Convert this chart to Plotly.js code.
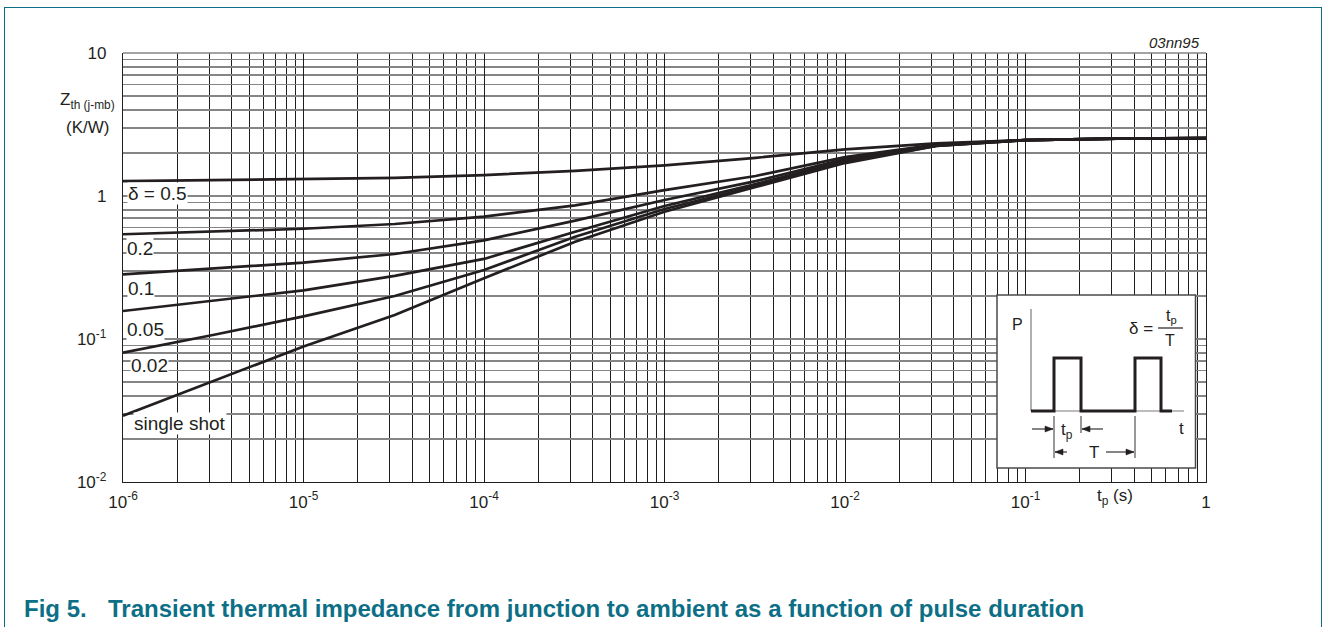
<!DOCTYPE html>
<html>
<head>
<meta charset="utf-8">
<script src="https://cdn.plot.ly/plotly-3.0.1.min.js"></script>
<style>
  html, body { margin: 0; padding: 0; background: #ffffff; }
  #wrap { position: relative; width: 1326px; height: 627px; overflow: hidden; }
  #chart { position: absolute; left: 0; top: 0; width: 1326px; height: 627px; }
  #frame { position: absolute; left: 4px; top: 7px; width: 1316px; height: 700px;
           border: 1.5px solid #0d6f86; border-bottom: none; pointer-events: none; }
</style>
</head>
<body>
<div id="wrap">
  <div id="chart"></div>
  <div id="frame"></div>
</div>
<script>
// Pulse duration t_p (s)
const tp = [1e-6, 3.2e-6, 1e-5, 3.2e-5, 1e-4, 3.2e-4, 1e-3, 3.2e-3, 1e-2, 3.2e-2, 0.1, 0.32, 1];

// Zth(j-mb) in K/W for each duty cycle
const zthD05 = [1.27, 1.29, 1.31, 1.34, 1.40, 1.50, 1.64, 1.85, 2.12, 2.33, 2.46, 2.52, 2.54];
const zthD02 = [0.54, 0.565, 0.59, 0.637, 0.717, 0.861, 1.10, 1.38, 1.87, 2.29, 2.46, 2.52, 2.54];
const zthD01 = [0.283, 0.311, 0.342, 0.393, 0.490, 0.672, 0.938, 1.27, 1.81, 2.27, 2.46, 2.52, 2.54];
const zthD005 = [0.157, 0.185, 0.219, 0.276, 0.363, 0.563, 0.851, 1.21, 1.76, 2.25, 2.46, 2.52, 2.54];
const zthD002 = [0.0802, 0.107, 0.144, 0.200, 0.304, 0.519, 0.811, 1.175, 1.73, 2.24, 2.46, 2.52, 2.54];
const zthSingle = [0.0291, 0.0509, 0.0887, 0.147, 0.266, 0.479, 0.777, 1.156, 1.70, 2.24, 2.46, 2.52, 2.54];

const seriesNames = ['δ = 0.5', '0.2', '0.1', '0.05', '0.02', 'single shot'];
const seriesValues = [zthD05, zthD02, zthD01, zthD005, zthD002, zthSingle];

// Tick labels at each decade
const xDecades = [1e-6, 1e-5, 1e-4, 1e-3, 1e-2, 1e-1, 1];
const xDecadeLabels = ['10<sup>-6</sup>', '10<sup>-5</sup>', '10<sup>-4</sup>', '10<sup>-3</sup>', '10<sup>-2</sup>', '10<sup>-1</sup>', '1'];
const yDecades = [1e-2, 1e-1, 1, 10];
const yDecadeLabels = ['10<sup>-2</sup>', '10<sup>-1</sup>', '1', '10'];

// Minor grid at 2..9 x 10^k inside each decade
function minorGrid(decades) {
  const vals = [];
  for (let i = 0; i < decades.length - 1; i++) {
    for (let m = 2; m <= 9; m++) vals.push(decades[i] * m);
  }
  return vals;
}

// Plot area in page pixels
const L = 123, R = 1206, T = 53, B = 482;
const W = 1326, H = 627;
const px = p => (p - L) / (R - L);
const py = p => (B - p) / (B - T);

const ink = '#231f20';
const teal = '#0d6f86';
const font = 'Liberation Sans, Arial, Helvetica, sans-serif';
const vGrid = '#1e1e1e';
const hGrid = '#858585';

const traces = seriesValues.map((vals, i) => ({
  x: tp, y: vals, type: 'scatter', mode: 'lines', name: seriesNames[i],
  line: { color: ink, width: 2.7 }, hoverinfo: 'skip'
}));

const shapes = [];
const annotations = [];

function line(x0, y0, x1, y1, color, width) {
  shapes.push({ type: 'line', xref: 'paper', yref: 'paper', layer: 'above',
    x0: px(x0), y0: py(y0), x1: px(x1), y1: py(y1), line: { color, width } });
}
function path(points, close, color, width, fill) {
  const d = points.map((p, i) => (i ? 'L' : 'M') + px(p[0]) + ',' + py(p[1])).join(' ') + (close ? ' Z' : '');
  const s = { type: 'path', xref: 'paper', yref: 'paper', layer: 'above', path: d,
    line: { color, width } };
  if (fill) s.fillcolor = fill;
  shapes.push(s);
}
function label(text, x, y, opts) {
  annotations.push(Object.assign({ text, xref: 'paper', yref: 'paper', x: px(x), y: py(y),
    showarrow: false, xanchor: 'center', yanchor: 'middle',
    font: { family: font, size: 17, color: ink } }, opts || {}));
}
// horizontal dimension arrow: shaft from x0 to head at xh
function arrow(x0, xh, y) {
  line(x0, y, xh, y, ink, 1.1);
  const dir = xh > x0 ? 1 : -1;
  path([[xh, y], [xh - dir * 8, y - 3], [xh - dir * 8, y + 3]], true, ink, 0.5, ink);
}

// top border of the plot area
line(L, T, R, T, hGrid, 1.5);

// curve labels on white
const curveLabels = [
  ['δ = 0.5', 127, 193], ['0.2', 126, 248], ['0.1', 127, 288],
  ['0.05', 126, 329], ['0.02', 130, 365], ['single shot', 133, 423]
];
curveLabels.forEach(c => label(c[0], c[1], c[2], {
  xanchor: 'left', bgcolor: '#ffffff', borderpad: 0,
  font: { family: font, size: 19, color: ink } }));

// axis titles and id tag
label('Z<sub>th (j-mb)</sub>', 87, 101, { font: { family: font, size: 17, color: ink } });
label('(K/W)', 87, 128, { font: { family: font, size: 17, color: ink } });
label('t<sub>p</sub> (s)', 1115, 497, { font: { family: font, size: 17, color: ink } });
label('<i>03nn95</i>', 1202, 42, { xanchor: 'right', font: { family: font, size: 15, color: ink } });

// pulse diagram
shapes.push({ type: 'rect', xref: 'paper', yref: 'paper', layer: 'above',
  x0: px(997), y0: py(295), x1: px(1195.5), y1: py(468),
  fillcolor: '#ffffff', line: { color: '#4a4a4a', width: 1.5 } });
line(1031, 309, 1031, 411, '#7a7a7a', 1.2);
line(1031, 411, 1184, 411, '#7a7a7a', 1.2);
path([[1031, 411], [1054, 411], [1054, 358], [1081, 358], [1081, 411],
      [1135, 411], [1135, 358], [1161, 358], [1161, 411], [1172, 411]], false, ink, 3);
line(1054, 416, 1054, 458, '#333333', 1);
line(1081, 416, 1081, 433, '#333333', 1);
line(1135, 416, 1135, 458, '#333333', 1);
arrow(1032, 1053, 429);
arrow(1103, 1082, 429);
arrow(1067, 1055, 452);
arrow(1106, 1134, 452);
label('t<sub>p</sub>', 1067, 431);
label('T', 1094, 452);
label('t', 1181, 428);
label('P', 1017, 324, { font: { family: font, size: 16, color: ink } });
label('δ =', 1141, 328, { font: { family: font, size: 17, color: ink } });
label('t<sub>p</sub>', 1171, 316, { font: { family: font, size: 16, color: ink } });
line(1158, 328, 1183, 328, ink, 1.2);
label('T', 1170, 340, { font: { family: font, size: 16, color: ink } });

// caption
const capFont = { family: font, size: 24, color: teal, weight: 'bold' };
label('<b>Fig 5.</b>', 22, 608, { xanchor: 'left', font: capFont });
label('<b>Transient thermal impedance from junction to ambient as a function of pulse duration</b>', 106, 608,
  { xanchor: 'left', font: capFont });

const layout = {
  width: W, height: H,
  margin: { l: L, r: W - R, t: T, b: H - B, pad: 0 },
  paper_bgcolor: '#ffffff', plot_bgcolor: '#ffffff',
  showlegend: false,
  font: { family: font, size: 17, color: ink },
  xaxis: {
    type: 'log', range: [-6, 0], tickmode: 'array', tickvals: xDecades, ticktext: xDecadeLabels,
    showgrid: true, gridcolor: vGrid, gridwidth: 1, zeroline: false,
    minor: { tickmode: 'array', tickvals: minorGrid(xDecades), showgrid: true,
             gridcolor: vGrid, gridwidth: 1, ticks: '' },
    showline: true, linecolor: ink, linewidth: 1.2, ticks: '', ticklabelstandoff: 4,
    tickfont: { family: font, size: 17, color: ink }
  },
  yaxis: {
    type: 'log', range: [-2, 1], tickmode: 'array', tickvals: yDecades, ticktext: yDecadeLabels,
    showgrid: true, gridcolor: hGrid, gridwidth: 1.5, zeroline: false,
    minor: { tickmode: 'array', tickvals: minorGrid(yDecades), showgrid: true,
             gridcolor: hGrid, gridwidth: 1.5, ticks: '' },
    showline: true, mirror: true, linecolor: ink, linewidth: 1.2, ticks: '', ticklabelstandoff: 12,
    tickfont: { family: font, size: 17, color: ink }
  },
  shapes, annotations
};

Plotly.newPlot('chart', traces, layout, { staticPlot: true, displayModeBar: false });
</script>
</body>
</html>
